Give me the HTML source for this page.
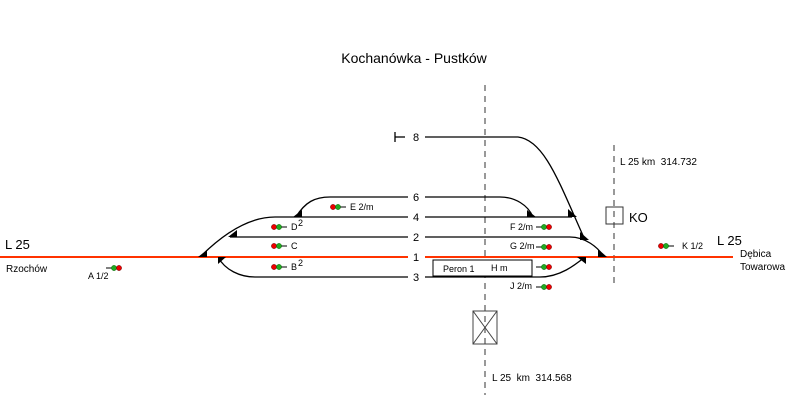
<!DOCTYPE html>
<html><head><meta charset="utf-8"><style>
body{margin:0;background:#fff;}
svg{display:block;font-family:"Liberation Sans",sans-serif;}
text{white-space:pre;}
</style></head><body>
<svg width="787" height="415" viewBox="0 0 787 415" xmlns="http://www.w3.org/2000/svg">
<defs>
<g id="sigL"><circle cx="0" cy="0" r="2.6" fill="#e00" stroke="#600" stroke-width="0.5"/><circle cx="5" cy="0" r="2.6" fill="#2a2" stroke="#060" stroke-width="0.5"/><line x1="7.5" y1="0" x2="13" y2="0" stroke="#000"/></g>
<g id="sigR"><line x1="0" y1="0" x2="5.5" y2="0" stroke="#000"/><circle cx="8" cy="0" r="2.6" fill="#2a2" stroke="#060" stroke-width="0.5"/><circle cx="13" cy="0" r="2.6" fill="#e00" stroke="#600" stroke-width="0.5"/></g>
</defs>
<text x="414" y="63" font-size="14" text-anchor="middle">Kochanówka - Pustków</text>
<line x1="485" y1="85" x2="485" y2="395" stroke="#999" stroke-width="2" stroke-dasharray="6,5"/>
<line x1="614" y1="145" x2="614" y2="285" stroke="#999" stroke-width="2" stroke-dasharray="6,5"/>
<g fill="none" stroke="#000" stroke-width="1.3">
<line x1="395" y1="132" x2="395" y2="142"/><line x1="395" y1="137" x2="405" y2="137"/>
<path d="M425 137 H518 C545 140 560 185 585 240"/>
<path d="M296 217 C305 202 315 197 330 197 H408 M425 197 H500 C515 197 528 205 533 217"/>
<path d="M200 257 C225 232 250 217 275 217 H408 M425 217 H572"/>
<path d="M230 237 H408 M425 237 H570 C585 237 598 247 604 257"/>
<path d="M218 257 C225 270 240 277 255 277 H408 M425 277 H540 C560 277 575 265 585 257"/>
</g>
<path d="M0 257 H408 M425 257 H733" stroke="#ff3300" stroke-width="2" fill="none"/>
<g fill="#000">
<polygon points="198,257 207,257 207,250"/>
<polygon points="228,237 237,237 237,230"/>
<polygon points="293,217 302,217 302,210"/>
<polygon points="218,257 226,257 218,264"/>
<polygon points="527,217 536,217 527,210"/>
<polygon points="568,217 577,217 568,209"/>
<polygon points="580,240 589,240 580,232"/>
<polygon points="598,257 607,257 598,249"/>
<polygon points="577,257 586,257 586,264"/>
</g>
<g font-size="11" text-anchor="middle">
<text x="416" y="141">8</text>
<text x="416" y="201">6</text>
<text x="416" y="221">4</text>
<text x="416" y="241">2</text>
<text x="416" y="261">1</text>
<text x="416" y="281">3</text>
</g>
<rect x="433" y="260" width="99" height="16" fill="#fff" stroke="#000"/>
<text x="443" y="272" font-size="9">Peron 1</text>
<text x="491" y="271" font-size="9">H m</text>
<g stroke="#444" stroke-width="1" fill="none"><rect x="473" y="311" width="24" height="33"/><line x1="473" y1="311" x2="497" y2="344"/><line x1="497" y1="311" x2="473" y2="344"/></g>
<rect x="606" y="207" width="17" height="17" fill="none" stroke="#333"/>
<text x="629" y="222" font-size="13">KO</text>
<use href="#sigL" x="333" y="207"/><text x="350" y="210" font-size="9">E 2/m</text>
<use href="#sigL" x="274" y="227"/><text x="291" y="230" font-size="9">D</text><text x="298" y="226" font-size="9">2</text>
<use href="#sigL" x="274" y="246"/><text x="291" y="249" font-size="9">C</text>
<use href="#sigL" x="274" y="267"/><text x="291" y="270" font-size="9">B</text><text x="298" y="266" font-size="9">2</text>
<text x="510" y="230" font-size="9">F 2/m</text><use href="#sigR" x="536" y="227"/>
<text x="510" y="249" font-size="9">G 2/m</text><use href="#sigR" x="536" y="247"/>
<use href="#sigR" x="536" y="267"/>
<text x="510" y="289" font-size="9">J 2/m</text><use href="#sigR" x="536" y="287"/>
<use href="#sigR" x="106" y="268"/><text x="88" y="279" font-size="9">A 1/2</text>
<use href="#sigL" x="661" y="246"/><text x="682" y="249" font-size="9">K 1/2</text>
<text x="5" y="249" font-size="13">L 25</text>
<text x="6" y="272" font-size="10">Rzochów</text>
<text x="717" y="245" font-size="13">L 25</text>
<text x="740" y="257" font-size="10">Dębica</text>
<text x="740" y="270" font-size="10">Towarowa</text>
<text x="620" y="165" font-size="10">L 25 km  314.732</text>
<text x="492" y="381" font-size="10">L 25  km  314.568</text>
</svg>
</body></html>
